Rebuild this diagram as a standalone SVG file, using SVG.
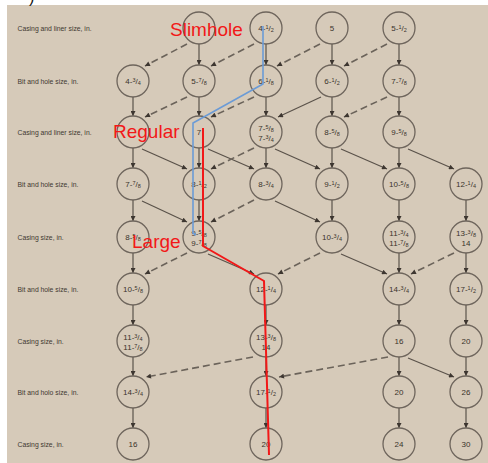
<svg xmlns="http://www.w3.org/2000/svg" width="488" height="463" viewBox="0 0 488 463">
<defs>
<style>
.lbl{font-family:"Liberation Sans",Arial,sans-serif;font-size:6.8px;fill:#3f3831}
.nd circle{fill:none;stroke:#6e655c;stroke-width:1.3}
.nd text{font-family:"Liberation Sans",Arial,sans-serif;font-size:8px;fill:#3a332c;text-anchor:middle}
.s{font-size:5.5px}
.e{fill:none;stroke:#5a524a;stroke-width:1.2;marker-end:url(#a)}
.d{fill:none;stroke:#6b635a;stroke-width:1.6;stroke-dasharray:7 4;marker-end:url(#a)}
.red{font-family:"Liberation Sans",Arial,sans-serif;font-size:19px;fill:#f21818}
</style>
<marker id="a" viewBox="0 0 10 10" refX="10" refY="5" markerWidth="6" markerHeight="5" markerUnits="userSpaceOnUse" orient="auto"><path d="M0,0 L10,5 L0,10 z" fill="#3d3630"/></marker>
</defs>
<rect width="488" height="463" fill="#ffffff"/>
<rect x="7" y="5" width="481" height="458" fill="#d6cab9"/>
<text x="29" y="3" font-family="Liberation Sans, sans-serif" font-size="16" fill="#111">)</text>

<g id="labels">
<text class="lbl" x="17.5" y="30.5">Casing and liner size, in.</text>
<text class="lbl" x="17.5" y="83.5">Bit and hole size, in.</text>
<text class="lbl" x="17.5" y="134.5">Casing and liner size, in.</text>
<text class="lbl" x="17.5" y="186.5">Bit and hole size, in.</text>
<text class="lbl" x="17.5" y="239.5">Casing size, in.</text>
<text class="lbl" x="17.5" y="291.5">Bit and hole size, in.</text>
<text class="lbl" x="17.5" y="343.5">Casing size, in.</text>
<text class="lbl" x="17.5" y="394.5">Bit and holo size, in.</text>
<text class="lbl" x="17.5" y="446.5">Casing size, in.</text>
</g>

<g id="connectors">
<!-- row1 -> row2 -->
<path class="e" d="M199,44V65"/><path class="e" d="M266,44V65"/><path class="e" d="M332,44V65"/><path class="e" d="M399,44V65"/>
<path class="d" d="M187,44L145,66"/><path class="d" d="M254,44L211,66"/><path class="d" d="M320,44L277,66"/><path class="d" d="M387,44L344,66"/>
<!-- row2 -> row3 -->
<path class="e" d="M133,97V116"/><path class="e" d="M199,97V116"/><path class="e" d="M266,97V116"/><path class="e" d="M332,97V116"/><path class="e" d="M399,97V116"/>
<path class="d" d="M187,97L145,117"/><path class="d" d="M254,97L211,117"/><path class="e" d="M321,97L278,117"/><path class="d" d="M387,97L344,117"/>
<!-- row3 -> row4 -->
<path class="e" d="M133,148V168"/><path class="e" d="M199,148V168"/><path class="e" d="M266,148V168"/><path class="e" d="M332,148V168"/><path class="e" d="M399,148V168"/>
<path class="e" d="M142,149L187,169"/><path class="e" d="M208,149L254,169"/><path class="e" d="M275,149L320,169"/><path class="e" d="M341,149L387,169"/><path class="e" d="M408,149L454,169"/>
<path class="d" d="M254,148L211,169"/>
<!-- row4 -> row5 -->
<path class="e" d="M133,200V221"/><path class="e" d="M199,200V221"/><path class="e" d="M332,200V221"/><path class="e" d="M399,200V221"/><path class="e" d="M466,200V221"/>
<path class="e" d="M142,201L187,222"/><path class="e" d="M275,201L320,222"/>
<path class="d" d="M254,200L211,222"/>
<!-- row5 -> row6 -->
<path class="e" d="M133,253V273"/><path class="e" d="M399,253V273"/><path class="e" d="M466,253V273"/>
<path class="d" d="M187,253L145,274"/><path class="d" d="M320,253L278,274"/><path class="d" d="M454,253L411,274"/>
<path class="e" d="M208,254L254,274"/><path class="e" d="M341,254L387,274"/>
<!-- row6 -> row7 -->
<path class="e" d="M133,305V325"/><path class="e" d="M266,305V325"/><path class="e" d="M399,305V325"/><path class="e" d="M466,305V325"/>
<!-- row7 -> row8 -->
<path class="e" d="M133,357V376"/><path class="e" d="M266,357V376"/><path class="e" d="M399,357V376"/><path class="e" d="M466,357V376"/>
<path class="d" d="M253,357L146,377"/><path class="d" d="M388,357L279,377"/><path class="e" d="M408,358L454,377"/>
<!-- row8 -> row9 -->
<path class="e" d="M133,408V428"/><path class="e" d="M266,408V428"/><path class="e" d="M399,408V428"/><path class="e" d="M466,408V428"/>
</g>

<g id="nodes" class="nd">
<!-- row 1 -->
<g id="n-r1c2" transform="translate(199,28)"><circle r="16"/></g>
<g id="n-r1c3" transform="translate(266,28)"><circle r="16"/><text y="3">4-<tspan class="s" dy="-2.5">1</tspan><tspan dy="2.5">/</tspan><tspan class="s" dy="1">2</tspan></text></g>
<g id="n-r1c4" transform="translate(332,28)"><circle r="16"/><text y="3">5</text></g>
<g id="n-r1c5" transform="translate(399,28)"><circle r="16"/><text y="3">5-<tspan class="s" dy="-2.5">1</tspan><tspan dy="2.5">/</tspan><tspan class="s" dy="1">2</tspan></text></g>
<!-- row 2 -->
<g id="n-r2c1" transform="translate(133,81)"><circle r="16"/><text y="3">4-<tspan class="s" dy="-2.5">3</tspan><tspan dy="2.5">/</tspan><tspan class="s" dy="1">4</tspan></text></g>
<g id="n-r2c2" transform="translate(199,81)"><circle r="16"/><text y="3">5-<tspan class="s" dy="-2.5">7</tspan><tspan dy="2.5">/</tspan><tspan class="s" dy="1">8</tspan></text></g>
<g id="n-r2c3" transform="translate(266,81)"><circle r="16"/><text y="3">6-<tspan class="s" dy="-2.5">1</tspan><tspan dy="2.5">/</tspan><tspan class="s" dy="1">8</tspan></text></g>
<g id="n-r2c4" transform="translate(332,81)"><circle r="16"/><text y="3">6-<tspan class="s" dy="-2.5">1</tspan><tspan dy="2.5">/</tspan><tspan class="s" dy="1">2</tspan></text></g>
<g id="n-r2c5" transform="translate(399,81)"><circle r="16"/><text y="3">7-<tspan class="s" dy="-2.5">7</tspan><tspan dy="2.5">/</tspan><tspan class="s" dy="1">8</tspan></text></g>
<!-- row 3 -->
<g id="n-r3c1" transform="translate(133,132)"><circle r="16"/></g>
<g id="n-r3c2" transform="translate(199,132)"><circle r="16"/><text y="3">7</text></g>
<g id="n-r3c3" transform="translate(266,132)"><circle r="16"/><text y="-1">7-<tspan class="s" dy="-2.5">5</tspan><tspan dy="2.5">/</tspan><tspan class="s" dy="1">8</tspan></text><text y="9">7-<tspan class="s" dy="-2.5">3</tspan><tspan dy="2.5">/</tspan><tspan class="s" dy="1">4</tspan></text></g>
<g id="n-r3c4" transform="translate(332,132)"><circle r="16"/><text y="3">8-<tspan class="s" dy="-2.5">5</tspan><tspan dy="2.5">/</tspan><tspan class="s" dy="1">8</tspan></text></g>
<g id="n-r3c5" transform="translate(399,132)"><circle r="16"/><text y="3">9-<tspan class="s" dy="-2.5">5</tspan><tspan dy="2.5">/</tspan><tspan class="s" dy="1">8</tspan></text></g>
<!-- row 4 -->
<g id="n-r4c1" transform="translate(133,184)"><circle r="16"/><text y="3">7-<tspan class="s" dy="-2.5">7</tspan><tspan dy="2.5">/</tspan><tspan class="s" dy="1">8</tspan></text></g>
<g id="n-r4c2" transform="translate(199,184)"><circle r="16"/><text y="3">8-<tspan class="s" dy="-2.5">1</tspan><tspan dy="2.5">/</tspan><tspan class="s" dy="1">2</tspan></text></g>
<g id="n-r4c3" transform="translate(266,184)"><circle r="16"/><text y="3">8-<tspan class="s" dy="-2.5">3</tspan><tspan dy="2.5">/</tspan><tspan class="s" dy="1">4</tspan></text></g>
<g id="n-r4c4" transform="translate(332,184)"><circle r="16"/><text y="3">9-<tspan class="s" dy="-2.5">1</tspan><tspan dy="2.5">/</tspan><tspan class="s" dy="1">2</tspan></text></g>
<g id="n-r4c5" transform="translate(399,184)"><circle r="16"/><text y="3">10-<tspan class="s" dy="-2.5">5</tspan><tspan dy="2.5">/</tspan><tspan class="s" dy="1">8</tspan></text></g>
<g id="n-r4c6" transform="translate(466,184)"><circle r="16"/><text y="3">12-<tspan class="s" dy="-2.5">1</tspan><tspan dy="2.5">/</tspan><tspan class="s" dy="1">4</tspan></text></g>
<!-- row 5 -->
<g id="n-r5c1" transform="translate(133,237)"><circle r="16"/><text y="3">8-<tspan class="s" dy="-2.5">5</tspan><tspan dy="2.5">/</tspan><tspan class="s" dy="1">8</tspan></text></g>
<g id="n-r5c2" transform="translate(199,237)"><circle r="16"/><text y="-1">9-<tspan class="s" dy="-2.5">5</tspan><tspan dy="2.5">/</tspan><tspan class="s" dy="1">8</tspan></text><text y="9">9-<tspan class="s" dy="-2.5">7</tspan><tspan dy="2.5">/</tspan><tspan class="s" dy="1">8</tspan></text></g>
<g id="n-r5c4" transform="translate(332,237)"><circle r="16"/><text y="3">10-<tspan class="s" dy="-2.5">3</tspan><tspan dy="2.5">/</tspan><tspan class="s" dy="1">4</tspan></text></g>
<g id="n-r5c5" transform="translate(399,237)"><circle r="16"/><text y="-1">11-<tspan class="s" dy="-2.5">3</tspan><tspan dy="2.5">/</tspan><tspan class="s" dy="1">4</tspan></text><text y="9">11-<tspan class="s" dy="-2.5">7</tspan><tspan dy="2.5">/</tspan><tspan class="s" dy="1">8</tspan></text></g>
<g id="n-r5c6" transform="translate(466,237)"><circle r="16"/><text y="-1">13-<tspan class="s" dy="-2.5">3</tspan><tspan dy="2.5">/</tspan><tspan class="s" dy="1">8</tspan></text><text y="9">14</text></g>
<!-- row 6 -->
<g id="n-r6c1" transform="translate(133,289)"><circle r="16"/><text y="3">10-<tspan class="s" dy="-2.5">5</tspan><tspan dy="2.5">/</tspan><tspan class="s" dy="1">8</tspan></text></g>
<g id="n-r6c3" transform="translate(266,289)"><circle r="16"/><text y="3">12-<tspan class="s" dy="-2.5">1</tspan><tspan dy="2.5">/</tspan><tspan class="s" dy="1">4</tspan></text></g>
<g id="n-r6c5" transform="translate(399,289)"><circle r="16"/><text y="3">14-<tspan class="s" dy="-2.5">3</tspan><tspan dy="2.5">/</tspan><tspan class="s" dy="1">4</tspan></text></g>
<g id="n-r6c6" transform="translate(466,289)"><circle r="16"/><text y="3">17-<tspan class="s" dy="-2.5">1</tspan><tspan dy="2.5">/</tspan><tspan class="s" dy="1">2</tspan></text></g>
<!-- row 7 -->
<g id="n-r7c1" transform="translate(133,341)"><circle r="16"/><text y="-1">11-<tspan class="s" dy="-2.5">3</tspan><tspan dy="2.5">/</tspan><tspan class="s" dy="1">4</tspan></text><text y="9">11-<tspan class="s" dy="-2.5">7</tspan><tspan dy="2.5">/</tspan><tspan class="s" dy="1">8</tspan></text></g>
<g id="n-r7c3" transform="translate(266,341)"><circle r="16"/><text y="-1">13-<tspan class="s" dy="-2.5">3</tspan><tspan dy="2.5">/</tspan><tspan class="s" dy="1">8</tspan></text><text y="9">14</text></g>
<g id="n-r7c5" transform="translate(399,341)"><circle r="16"/><text y="3">16</text></g>
<g id="n-r7c6" transform="translate(466,341)"><circle r="16"/><text y="3">20</text></g>
<!-- row 8 -->
<g id="n-r8c1" transform="translate(133,392)"><circle r="16"/><text y="3">14-<tspan class="s" dy="-2.5">3</tspan><tspan dy="2.5">/</tspan><tspan class="s" dy="1">4</tspan></text></g>
<g id="n-r8c3" transform="translate(266,392)"><circle r="16"/><text y="3">17-<tspan class="s" dy="-2.5">1</tspan><tspan dy="2.5">/</tspan><tspan class="s" dy="1">2</tspan></text></g>
<g id="n-r8c5" transform="translate(399,392)"><circle r="16"/><text y="3">20</text></g>
<g id="n-r8c6" transform="translate(466,392)"><circle r="16"/><text y="3">26</text></g>
<!-- row 9 -->
<g id="n-r9c1" transform="translate(133,444)"><circle r="16"/><text y="3">16</text></g>
<g id="n-r9c3" transform="translate(266,444)"><circle r="16"/><text y="3">20</text></g>
<g id="n-r9c5" transform="translate(399,444)"><circle r="16"/><text y="3">24</text></g>
<g id="n-r9c6" transform="translate(466,444)"><circle r="16"/><text y="3">30</text></g>
</g>

<g id="paths">
<polyline points="263,26 263,84 193,123 193,233 196,235" fill="none" stroke="#6b9bd6" stroke-width="1.6"/>
<polyline points="203,128 203,246 264,281 269,455" fill="none" stroke="#f21818" stroke-width="2"/>
</g>

<g id="captions">
<text class="red" x="170" y="36">Slimhole</text>
<text class="red" x="113" y="138">Regular</text>
<text class="red" x="132" y="248">Large</text>
</g>
</svg>
